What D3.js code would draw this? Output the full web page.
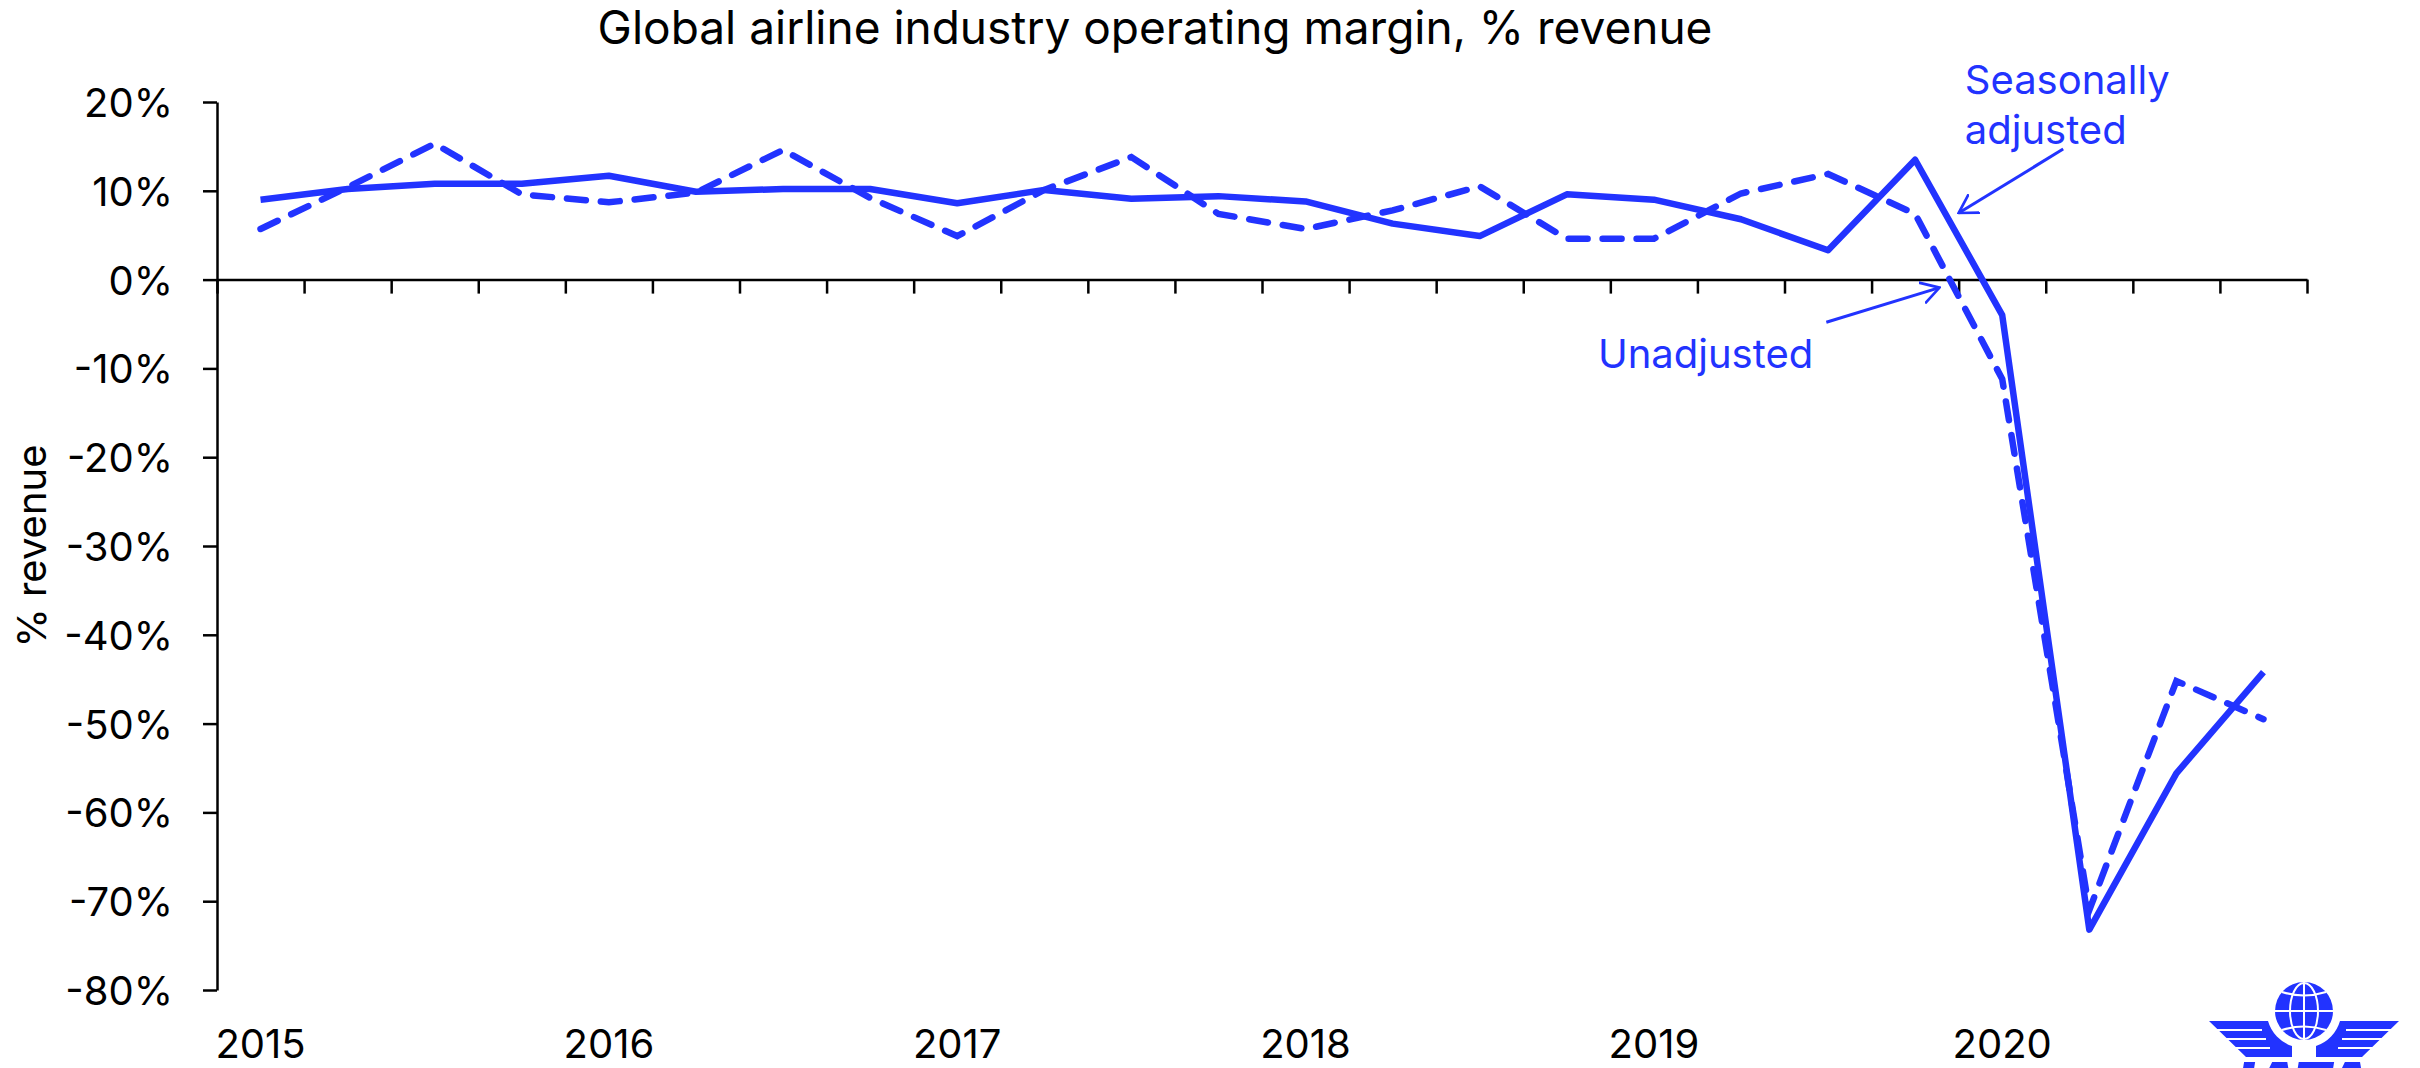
<!DOCTYPE html>
<html>
<head>
<style>
    body { margin: 0; background: #fff; }
    svg { display: block; font-family: Inter, "Noto Sans", sans-serif; }
    .axis text { font-family: Inter, "Noto Sans", sans-serif; font-size: 40px; fill: #000; }
    .axis path, .axis line { stroke: #000; stroke-width: 2.5px; }
</style>
</head>
<body>
<div id="chart"></div>
<script src="https://cdnjs.cloudflare.com/ajax/libs/d3/7.8.5/d3.min.js"></script>
<script>
    // quarters 2015Q1 .. 2020Q4
    const quarters = ["2015Q1","2015Q2","2015Q3","2015Q4","2016Q1","2016Q2","2016Q3","2016Q4",
        "2017Q1","2017Q2","2017Q3","2017Q4","2018Q1","2018Q2","2018Q3","2018Q4",
        "2019Q1","2019Q2","2019Q3","2019Q4","2020Q1","2020Q2","2020Q3","2020Q4"];
    const seasonallyAdjusted = [9.0, 10.2, 10.8, 10.8, 11.7, 9.9, 10.2, 10.2, 8.6, 10.1, 9.1, 9.4,
        8.8, 6.3, 4.9, 9.6, 9.0, 6.8, 3.3, 13.5, -4.0, -73.2, -55.6, -44.2];
    const unadjusted = [5.7, 10.4, 15.3, 9.6, 8.7, 9.8, 14.6, 9.2, 4.9, 10.1, 13.8, 7.4,
        5.7, 7.8, 10.5, 4.6, 4.6, 9.7, 11.9, 7.4, -11.2, -71.0, -45.2, -49.5];
    const yTicks = [20, 10, 0, -10, -20, -30, -40, -50, -60, -70, -80];
    const yearLabels = ["2015", "2016", "2017", "2018", "2019", "2020"];

    const width = 2420, height = 1068;
    const blue = "#2233ff";
    const plot = { left: 217, right: 2307, top: 102, bottom: 990 };

    const svg = d3.select("#chart").append("svg")
        .attr("width", width)
        .attr("height", height);

    // x: quarter index, points sit in the middle of each quarter
    const x = d3.scaleLinear().domain([0, quarters.length]).range([plot.left, plot.right]);
    const y = d3.scaleLinear().domain([-80, 20]).range([plot.bottom, plot.top]);

    // Title
    svg.append("text")
        .attr("x", 1155)
        .attr("y", 44)
        .attr("text-anchor", "middle")
        .style("font-size", "46px")
        .text("Global airline industry operating margin, % revenue");

    // y axis
    svg.append("g")
        .attr("class", "axis")
        .attr("transform", `translate(${plot.left},0)`)
        .call(d3.axisLeft(y).tickValues(yTicks).tickSize(14).tickPadding(30)
            .tickFormat(d => d + "%").tickSizeOuter(0))
        .call(g => g.selectAll("text").attr("dy", "0.36em"));

    svg.append("text")
        .attr("transform", `translate(46,${(plot.top + plot.bottom) / 2}) rotate(-90)`)
        .attr("text-anchor", "middle")
        .style("font-size", "40px")
        .text("% revenue");

    // zero line with quarter ticks
    svg.append("g")
        .attr("class", "axis")
        .attr("transform", `translate(0,${y(0)})`)
        .call(d3.axisBottom(x).tickValues(d3.range(quarters.length + 1)).tickSize(14)
            .tickFormat("").tickSizeOuter(0));

    // year labels at each Q1
    svg.append("g")
        .selectAll("text")
        .data(yearLabels)
        .join("text")
        .attr("x", d => x(quarters.indexOf(d + "Q1") + 0.5))
        .attr("y", 1058)
        .attr("text-anchor", "middle")
        .style("font-size", "40px")
        .text(d => d);

    const line = d3.line()
        .x((d, i) => x(i + 0.5))
        .y(d => y(d));

    svg.append("path")
        .datum(unadjusted)
        .attr("d", line)
        .attr("fill", "none")
        .attr("stroke", blue)
        .attr("stroke-width", 6.5)
        .attr("stroke-linecap", "round")
        .attr("stroke-dasharray", "19,15");

    svg.append("path")
        .datum(seasonallyAdjusted)
        .attr("d", line)
        .attr("fill", "none")
        .attr("stroke", blue)
        .attr("stroke-width", 6.5)
        .attr("stroke-linejoin", "round");

    // annotations
    svg.append("defs").append("marker")
        .attr("id", "arrow")
        .attr("markerUnits", "userSpaceOnUse")
        .attr("viewBox", "0 0 12 14")
        .attr("refX", 11)
        .attr("refY", 7)
        .attr("markerWidth", 20)
        .attr("markerHeight", 24)
        .attr("orient", "auto")
        .append("path")
        .attr("d", "M0,0.5 L11,7 L0,13.5")
        .attr("fill", "none")
        .attr("stroke", blue)
        .attr("stroke-width", 1.6);

    const notes = [
        { lines: ["Seasonally", "adjusted"], tx: 20.07, ty: 20.9, anchor: "start",
          from: [21.2, 14.7], to: [20.0, 7.5] },
        { lines: ["Unadjusted"], tx: 18.33, ty: -10.0, anchor: "end",
          from: [18.48, -4.8], to: [19.78, -0.9] }
    ];

    notes.forEach(n => {
        const t = svg.append("text")
            .attr("x", x(n.tx))
            .attr("y", y(n.ty))
            .attr("text-anchor", n.anchor)
            .attr("fill", blue)
            .style("font-size", "40px");
        n.lines.forEach((l, i) => {
            t.append("tspan").attr("x", x(n.tx)).attr("dy", i ? 50 : 0).text(l);
        });
        svg.append("line")
            .attr("x1", x(n.from[0])).attr("y1", y(n.from[1]))
            .attr("x2", x(n.to[0])).attr("y2", y(n.to[1]))
            .attr("stroke", blue)
            .attr("stroke-width", 3)
            .attr("marker-end", "url(#arrow)");
    });

    // IATA logo (bottom right)
    const logo = svg.append("g").attr("transform", "translate(2304,1011)");
    logo.append("circle").attr("r", 29).attr("fill", blue);
    logo.append("ellipse").attr("rx", 14).attr("ry", 28).attr("fill", "none")
        .attr("stroke", "#fff").attr("stroke-width", 2);
    logo.append("line").attr("y1", -29).attr("y2", 29).attr("stroke", "#fff").attr("stroke-width", 2);
    logo.append("line").attr("x1", -29).attr("x2", 29).attr("stroke", "#fff").attr("stroke-width", 2);
    [-19, 19].forEach(v => {
        logo.append("path")
            .attr("d", `M-22,${v} Q0,${v + (v < 0 ? 7 : -7)} 22,${v}`)
            .attr("fill", "none").attr("stroke", "#fff").attr("stroke-width", 2);
    });
    [1, -1].forEach(s => {
        const w = logo.append("g").attr("transform", `scale(${s},1)`);
        w.append("path")
            .attr("d", "M-95,10 L-36,10 A37,37 0 0 0 -12,35 L-12,46 L-58,46 Z")
            .attr("fill", blue);
        [19, 28, 37].forEach((v, i) => {
            w.append("line")
                .attr("x1", -100).attr("x2", -42 + i * 4)
                .attr("y1", v).attr("y2", v)
                .attr("stroke", "#fff").attr("stroke-width", 2);
        });
    });
    logo.append("text")
        .attr("y", 92)
        .attr("text-anchor", "middle")
        .attr("fill", blue)
        .style("font-size", "56px")
        .style("font-weight", "900")
        .style("font-style", "italic")
        .text("IATA");
</script>
</body>
</html>
